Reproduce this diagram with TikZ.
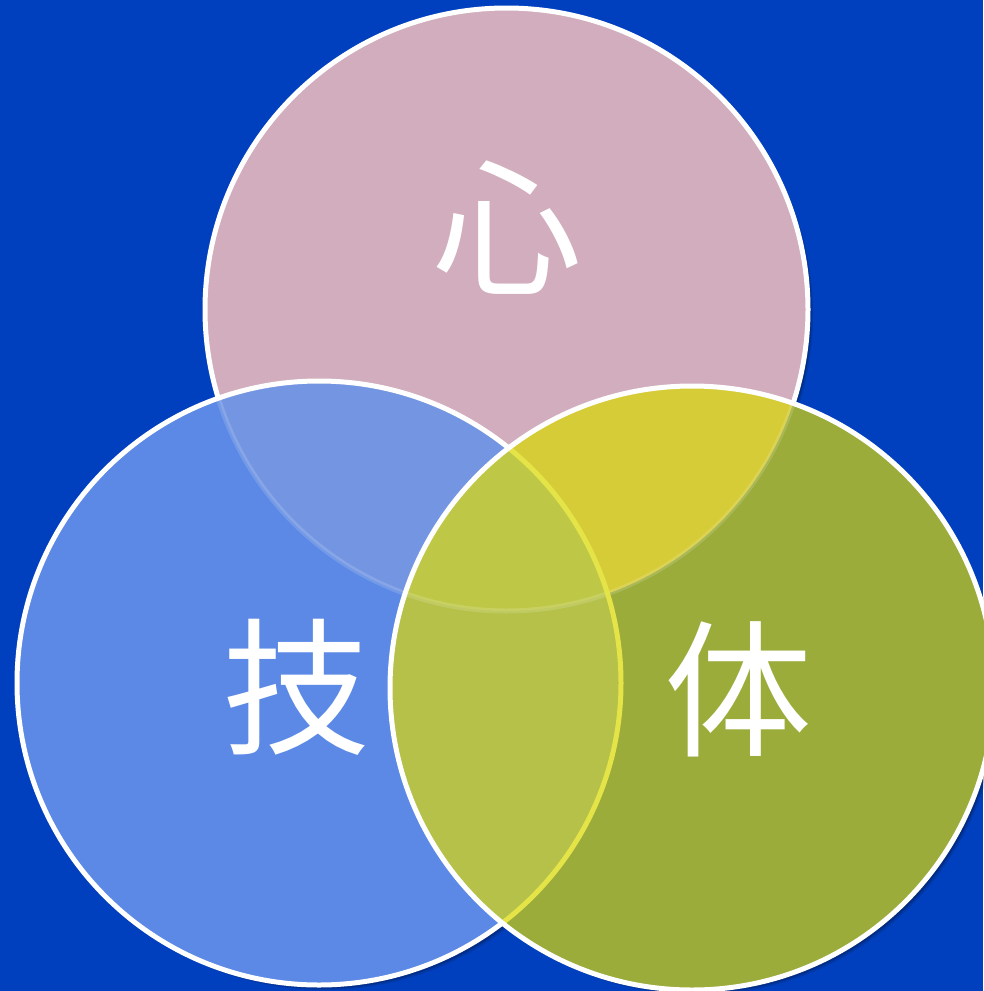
\documentclass[tikz,border=0pt]{standalone}
\usepackage{fontspec}
\newfontfamily\cjk{Noto Sans CJK JP}
\definecolor{bg}{RGB}{0,64,190}
\definecolor{cpink}{RGB}{209,173,189}
\definecolor{cblue}{RGB}{91,137,229}
\definecolor{cgreen}{RGB}{155,172,59}
\definecolor{ctl}{RGB}{116,150,226}
\definecolor{ctr}{RGB}{214,204,56}
\definecolor{clr}{RGB}{181,193,72}
\definecolor{ctri}{RGB}{190,200,70}
\definecolor{cyline}{RGB}{228,228,72}
\tikzset{
  rim/.style={draw=white,line width=5pt},
  faint/.style={draw=white,draw opacity=0.15,line width=5pt},
  shade/.style={fill=black,fill opacity=#1},
  label/.style={text=white,font=\cjk\fontsize{148}{148}\selectfont,inner sep=0pt}
}
\def\Tc{(506.5,309.5) circle (301.5pt)}
\def\Lc{(319,683) circle (302pt)}
\def\Rc{(692,688) circle (302pt)}
\begin{document}
\begin{tikzpicture}[x=1pt,y=-1pt]
\useasboundingbox (0,0) rectangle (983,991);
\fill[bg] (0,0) rectangle (983,991);
% shadows
\foreach \d/\o in {5/0.12,3.5/0.18,2/0.25}{
  \begin{scope}[shift={(\d,\d)}]
    \fill[shade=\o] \Tc;
    \fill[shade=\o] \Lc;
    \fill[shade=\o] \Rc;
  \end{scope}
}
% top circle
\fill[cpink] \Tc;
\path[rim] \Tc;
% left circle
\fill[cblue] \Lc;
\begin{scope}
  \clip \Lc;
  \fill[ctl] \Tc;
  \path[faint] \Tc;
\end{scope}
\path[rim] \Lc;
% right circle
\fill[cgreen] \Rc;
\begin{scope}
  \clip \Rc;
  \fill[ctr] \Tc;
  \fill[clr] \Lc;
  \begin{scope}
    \clip \Tc;
    \fill[ctri] \Lc;
  \end{scope}
  \path[faint] \Tc;
  \path[draw=cyline,line width=5pt] \Lc;
\end{scope}
\path[rim] \Rc;
% labels
\node[label] (xin) at (507,228) {心};
\node[label] (ji) at (296,687) {技};
\node[label] (ti) at (738,689) {体};
\end{tikzpicture}
\end{document}
